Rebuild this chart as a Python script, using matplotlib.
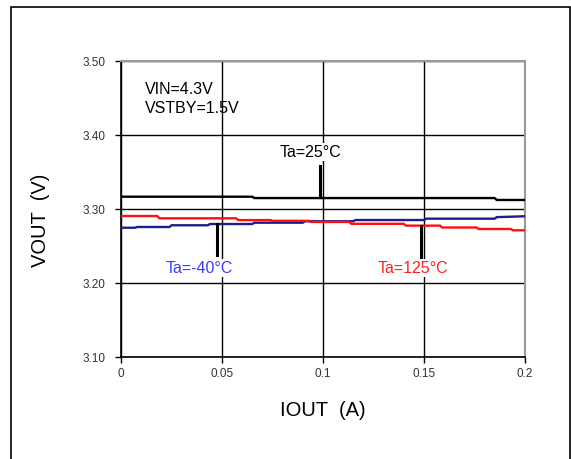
"""
VOUT vs IOUT bei drei Umgebungstemperaturen.
"""
import matplotlib
matplotlib.use("Agg")
import matplotlib.pyplot as plt
import matplotlib.patches as mpatches

plt.rcParams["font.family"] = ["Liberation Sans", "DejaVu Sans"]

# ── Daten ─────────────────────────────────────────────────────────────────────
iout_25 = [0.0, 0.065, 0.066, 0.185, 0.186, 0.2]
vout_25 = [3.3166, 3.3166, 3.3148, 3.3148, 3.3122, 3.3122]

iout_m40 = [0.0, 0.007, 0.008, 0.024, 0.025, 0.043, 0.044, 0.065, 0.066, 0.090,
            0.091, 0.115, 0.116, 0.150, 0.151, 0.185, 0.186, 0.2]
vout_m40 = [3.2747, 3.2747, 3.2757, 3.2757, 3.2780, 3.2780, 3.2797, 3.2797,
            3.2815, 3.2815, 3.2834, 3.2834, 3.2851, 3.2851, 3.2869, 3.2869,
            3.2890, 3.2902]

iout_125 = [0.0, 0.018, 0.019, 0.057, 0.058, 0.074, 0.075, 0.093, 0.094, 0.113,
            0.114, 0.140, 0.141, 0.158, 0.159, 0.176, 0.177, 0.193, 0.194, 0.2]
vout_125 = [3.2905, 3.2905, 3.2874, 3.2874, 3.2850, 3.2850, 3.2840, 3.2840,
            3.2825, 3.2825, 3.2800, 3.2800, 3.2775, 3.2775, 3.2750, 3.2750,
            3.2730, 3.2730, 3.2712, 3.2712]

x_ticks = [0, 0.05, 0.1, 0.15, 0.2]
x_ticklabels = ["0", "0.05", "0.1", "0.15", "0.2"]
y_ticks = [3.10, 3.20, 3.30, 3.40, 3.50]
y_ticklabels = ["3.10", "3.20", "3.30", "3.40", "3.50"]

# Beschriftungen: (Text, x, y, Farbe) + Hinweislinien (x, y0, y1)
labels = [("Ta=25°C", 0.0938, 3.377, "black"),
          ("Ta=-40°C", 0.0387, 3.220, "#3b3bff"),
          ("Ta=125°C", 0.1443, 3.220, "#ff2020")]
leaders = [(0.0985, 3.3160, 3.3585),
           (0.0474, 3.2800, 3.2375),
           (0.1484, 3.2770, 3.2350)]

# ── Figur ─────────────────────────────────────────────────────────────────────
fig = plt.figure(figsize=(5.71, 4.59), dpi=100)
fig.patches.append(mpatches.Rectangle((11 / 571, -0.05), 559 / 571, 1.05 - 6.5 / 459,
                                      transform=fig.transFigure, fill=False,
                                      edgecolor="black", lw=1.2))

ax = fig.add_axes([121 / 571, 1 - 357 / 459, 404 / 571, 296 / 459])

ax.plot(iout_25, vout_25, color="black", lw=1.7, zorder=3)
ax.plot(iout_m40, vout_m40, color="#1c1c8a", lw=1.7, zorder=3)
ax.plot(iout_125, vout_125, color="#ff1010", lw=1.7, zorder=3)

for x, y0, y1 in leaders:
    ax.plot([x, x], [y0, y1], color="black", lw=2.2, zorder=4)

for txt, x, y, col in labels:
    ax.text(x, y, txt, color=col, fontsize=11.5, ha="center", va="center", zorder=5,
            bbox=dict(facecolor="white", edgecolor="none", pad=1.0))

ax.text(0.0118, 3.462, "VIN=4.3V", fontsize=11.5, va="center", ha="left")
ax.text(0.0118, 3.436, "VSTBY=1.5V", fontsize=11.5, va="center", ha="left")

ax.set_xlim(0, 0.2)
ax.set_ylim(3.10, 3.50)
ax.set_xticks(x_ticks)
ax.set_xticklabels(x_ticklabels)
ax.set_yticks(y_ticks)
ax.set_yticklabels(y_ticklabels)
ax.tick_params(direction="out", length=4, width=1, labelsize=8.5,
               labelcolor="#333333")
ax.tick_params(axis="y", pad=7)
ax.tick_params(axis="x", pad=4)
ax.grid(True, color="black", lw=1.0)
ax.set_axisbelow(True)

for s in ("left", "bottom"):
    ax.spines[s].set_color("black")
    ax.spines[s].set_linewidth(1.2)
for s in ("top", "right"):
    ax.spines[s].set_color("#999999")
    ax.spines[s].set_linewidth(1.5)

fig.text(41 / 571, 1 - 220 / 459, "VOUT  (V)", rotation=90, fontsize=14.5,
         ha="center", va="center")
fig.text(323 / 571, 1 - 410 / 459, "IOUT  (A)", fontsize=14.5,
         ha="center", va="center")

fig.savefig("out.png", dpi=100)
